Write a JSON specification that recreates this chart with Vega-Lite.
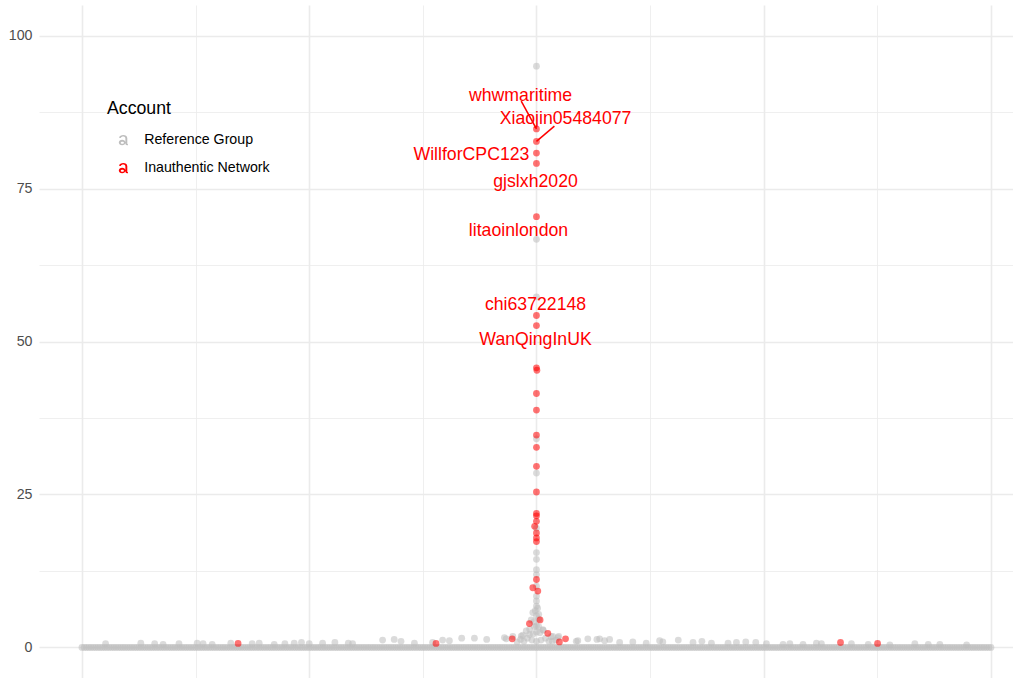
{
  "$schema": "https://vega.github.io/schema/vega-lite/v6.json",
  "autosize": {"type": "none"},
  "padding": {"left": 39, "top": 5, "right": 0, "bottom": 0},
  "width": 974,
  "height": 673,
  "background": "white",
  "config": {
    "view": {"stroke": null},
    "font": "Liberation Sans",
    "text": {"font": "Liberation Sans"},
    "legend": {"symbolSize": 116, "symbolOpacity": 1}
  },
  "datasets": {
    "base": [
      {"x":-200,"y":0},{"x":-198,"y":0},{"x":-196,"y":0},{"x":-194,"y":0},{"x":-192,"y":0},{"x":-190,"y":0},{"x":-188,"y":0},{"x":-186,"y":0},{"x":-184,"y":0},{"x":-182,"y":0},
      {"x":-180,"y":0},{"x":-178,"y":0},{"x":-176,"y":0},{"x":-174,"y":0},{"x":-172,"y":0},{"x":-170,"y":0},{"x":-168,"y":0},{"x":-166,"y":0},{"x":-164,"y":0},{"x":-162,"y":0},
      {"x":-160,"y":0},{"x":-158,"y":0},{"x":-156,"y":0},{"x":-154,"y":0},{"x":-152,"y":0},{"x":-150,"y":0},{"x":-148,"y":0},{"x":-146,"y":0},{"x":-144,"y":0},{"x":-142,"y":0},
      {"x":-140,"y":0},{"x":-138,"y":0},{"x":-136,"y":0},{"x":-134,"y":0},{"x":-132,"y":0},{"x":-130,"y":0},{"x":-128,"y":0},{"x":-126,"y":0},{"x":-124,"y":0},{"x":-122,"y":0},
      {"x":-120,"y":0},{"x":-118,"y":0},{"x":-116,"y":0},{"x":-114,"y":0},{"x":-112,"y":0},{"x":-110,"y":0},{"x":-108,"y":0},{"x":-106,"y":0},{"x":-104,"y":0},{"x":-102,"y":0},
      {"x":-100,"y":0},{"x":-98,"y":0},{"x":-96,"y":0},{"x":-94,"y":0},{"x":-92,"y":0},{"x":-90,"y":0},{"x":-88,"y":0},{"x":-86,"y":0},{"x":-84,"y":0},{"x":-82,"y":0},
      {"x":-80,"y":0},{"x":-78,"y":0},{"x":-76,"y":0},{"x":-74,"y":0},{"x":-72,"y":0},{"x":-70,"y":0},{"x":-68,"y":0},{"x":-66,"y":0},{"x":-64,"y":0},{"x":-62,"y":0},
      {"x":-60,"y":0},{"x":-58,"y":0},{"x":-56,"y":0},{"x":-54,"y":0},{"x":-52,"y":0},{"x":-50,"y":0},{"x":-48,"y":0},{"x":-46,"y":0},{"x":-44,"y":0},{"x":-42,"y":0},
      {"x":-40,"y":0},{"x":-38,"y":0},{"x":-36,"y":0},{"x":-34,"y":0},{"x":-32,"y":0},{"x":-30,"y":0},{"x":-28,"y":0},{"x":-26,"y":0},{"x":-24,"y":0},{"x":-22,"y":0},
      {"x":-20,"y":0},{"x":-18,"y":0},{"x":-16,"y":0},{"x":-14,"y":0},{"x":-12,"y":0},{"x":-10,"y":0},{"x":-8,"y":0},{"x":-6,"y":0},{"x":-4,"y":0},{"x":-2,"y":0},
      {"x":0,"y":0},{"x":2,"y":0},{"x":4,"y":0},{"x":6,"y":0},{"x":8,"y":0},{"x":10,"y":0},{"x":12,"y":0},{"x":14,"y":0},{"x":16,"y":0},{"x":18,"y":0},
      {"x":20,"y":0},{"x":22,"y":0},{"x":24,"y":0},{"x":26,"y":0},{"x":28,"y":0},{"x":30,"y":0},{"x":32,"y":0},{"x":34,"y":0},{"x":36,"y":0},{"x":38,"y":0},
      {"x":40,"y":0},{"x":42,"y":0},{"x":44,"y":0},{"x":46,"y":0},{"x":48,"y":0},{"x":50,"y":0},{"x":52,"y":0},{"x":54,"y":0},{"x":56,"y":0},{"x":58,"y":0},
      {"x":60,"y":0},{"x":62,"y":0},{"x":64,"y":0},{"x":66,"y":0},{"x":68,"y":0},{"x":70,"y":0},{"x":72,"y":0},{"x":74,"y":0},{"x":76,"y":0},{"x":78,"y":0},
      {"x":80,"y":0},{"x":82,"y":0},{"x":84,"y":0},{"x":86,"y":0},{"x":88,"y":0},{"x":90,"y":0},{"x":92,"y":0},{"x":94,"y":0},{"x":96,"y":0},{"x":98,"y":0},
      {"x":100,"y":0},{"x":102,"y":0},{"x":104,"y":0},{"x":106,"y":0},{"x":108,"y":0},{"x":110,"y":0},{"x":112,"y":0},{"x":114,"y":0},{"x":116,"y":0},{"x":118,"y":0},
      {"x":120,"y":0},{"x":122,"y":0},{"x":124,"y":0},{"x":126,"y":0},{"x":128,"y":0},{"x":130,"y":0},{"x":132,"y":0},{"x":134,"y":0},{"x":136,"y":0},{"x":138,"y":0},
      {"x":140,"y":0},{"x":142,"y":0},{"x":144,"y":0},{"x":146,"y":0},{"x":148,"y":0},{"x":150,"y":0},{"x":152,"y":0},{"x":154,"y":0},{"x":156,"y":0},{"x":158,"y":0},
      {"x":160,"y":0},{"x":162,"y":0},{"x":164,"y":0},{"x":166,"y":0},{"x":168,"y":0},{"x":170,"y":0},{"x":172,"y":0},{"x":174,"y":0},{"x":176,"y":0},{"x":178,"y":0},
      {"x":180,"y":0},{"x":182,"y":0},{"x":184,"y":0},{"x":186,"y":0},{"x":188,"y":0},{"x":190,"y":0},{"x":192,"y":0},{"x":194,"y":0},{"x":196,"y":0},{"x":198,"y":0},
      {"x":200,"y":0},
      {"x":-199,"y":0},{"x":-197,"y":0},{"x":-195,"y":0},{"x":-193,"y":0},{"x":-191,"y":0},{"x":-189,"y":0},{"x":-187,"y":0},{"x":-185,"y":0},{"x":-183,"y":0},{"x":-181,"y":0},
      {"x":-179,"y":0},{"x":-177,"y":0},{"x":-175,"y":0},{"x":-173,"y":0},{"x":-171,"y":0},{"x":-169,"y":0},{"x":-167,"y":0},{"x":-165,"y":0},{"x":-163,"y":0},{"x":-161,"y":0},
      {"x":-159,"y":0},{"x":-157,"y":0},{"x":-155,"y":0},{"x":-153,"y":0},{"x":-151,"y":0},{"x":-149,"y":0},{"x":-147,"y":0},{"x":-145,"y":0},{"x":-143,"y":0},{"x":-141,"y":0},
      {"x":-139,"y":0},{"x":-137,"y":0},{"x":-135,"y":0},{"x":-133,"y":0},{"x":-131,"y":0},{"x":-129,"y":0},{"x":-127,"y":0},{"x":-125,"y":0},{"x":-123,"y":0},{"x":-121,"y":0},
      {"x":-119,"y":0},{"x":-117,"y":0},{"x":-115,"y":0},{"x":-113,"y":0},{"x":-111,"y":0},{"x":-109,"y":0},{"x":-107,"y":0},{"x":-105,"y":0},{"x":-103,"y":0},{"x":-101,"y":0},
      {"x":-99,"y":0},{"x":-97,"y":0},{"x":-95,"y":0},{"x":-93,"y":0},{"x":-91,"y":0},{"x":-89,"y":0},{"x":-87,"y":0},{"x":-85,"y":0},{"x":-83,"y":0},{"x":-81,"y":0},
      {"x":-79,"y":0},{"x":-77,"y":0},{"x":-75,"y":0},{"x":-73,"y":0},{"x":-71,"y":0},{"x":-69,"y":0},{"x":-67,"y":0},{"x":-65,"y":0},{"x":-63,"y":0},{"x":-61,"y":0},
      {"x":-59,"y":0},{"x":-57,"y":0},{"x":-55,"y":0},{"x":-53,"y":0},{"x":-51,"y":0},{"x":-49,"y":0},{"x":-47,"y":0},{"x":-45,"y":0},{"x":-43,"y":0},{"x":-41,"y":0},
      {"x":-39,"y":0},{"x":-37,"y":0},{"x":-35,"y":0},{"x":-33,"y":0},{"x":-31,"y":0},{"x":-29,"y":0},{"x":-27,"y":0},{"x":-25,"y":0},{"x":-23,"y":0},{"x":-21,"y":0},
      {"x":-19,"y":0},{"x":-17,"y":0},{"x":-15,"y":0},{"x":-13,"y":0},{"x":-11,"y":0},{"x":-9,"y":0},{"x":-7,"y":0},{"x":-5,"y":0},{"x":-3,"y":0},{"x":-1,"y":0},
      {"x":1,"y":0},{"x":3,"y":0},{"x":5,"y":0},{"x":7,"y":0},{"x":9,"y":0},{"x":11,"y":0},{"x":13,"y":0},{"x":15,"y":0},{"x":17,"y":0},{"x":19,"y":0},
      {"x":21,"y":0},{"x":23,"y":0},{"x":25,"y":0},{"x":27,"y":0},{"x":29,"y":0},{"x":31,"y":0},{"x":33,"y":0},{"x":35,"y":0},{"x":37,"y":0},{"x":39,"y":0},
      {"x":41,"y":0},{"x":43,"y":0},{"x":45,"y":0},{"x":47,"y":0},{"x":49,"y":0},{"x":51,"y":0},{"x":53,"y":0},{"x":55,"y":0},{"x":57,"y":0},{"x":59,"y":0},
      {"x":61,"y":0},{"x":63,"y":0},{"x":65,"y":0},{"x":67,"y":0},{"x":69,"y":0},{"x":71,"y":0},{"x":73,"y":0},{"x":75,"y":0},{"x":77,"y":0},{"x":79,"y":0},
      {"x":81,"y":0},{"x":83,"y":0},{"x":85,"y":0},{"x":87,"y":0},{"x":89,"y":0},{"x":91,"y":0},{"x":93,"y":0},{"x":95,"y":0},{"x":97,"y":0},{"x":99,"y":0},
      {"x":101,"y":0},{"x":103,"y":0},{"x":105,"y":0},{"x":107,"y":0},{"x":109,"y":0},{"x":111,"y":0},{"x":113,"y":0},{"x":115,"y":0},{"x":117,"y":0},{"x":119,"y":0},
      {"x":121,"y":0},{"x":123,"y":0},{"x":125,"y":0},{"x":127,"y":0},{"x":129,"y":0},{"x":131,"y":0},{"x":133,"y":0},{"x":135,"y":0},{"x":137,"y":0},{"x":139,"y":0},
      {"x":141,"y":0},{"x":143,"y":0},{"x":145,"y":0},{"x":147,"y":0},{"x":149,"y":0},{"x":151,"y":0},{"x":153,"y":0},{"x":155,"y":0},{"x":157,"y":0},{"x":159,"y":0},
      {"x":161,"y":0},{"x":163,"y":0},{"x":165,"y":0},{"x":167,"y":0},{"x":169,"y":0},{"x":171,"y":0},{"x":173,"y":0},{"x":175,"y":0},{"x":177,"y":0},{"x":179,"y":0},
      {"x":181,"y":0},{"x":183,"y":0},{"x":185,"y":0},{"x":187,"y":0},{"x":189,"y":0},{"x":191,"y":0},{"x":193,"y":0},{"x":195,"y":0},{"x":197,"y":0},{"x":199,"y":0}
    ],
    "pts": [
      {"x":-189.6,"y":0.6,"g":"Reference Group"},{"x":-174.1,"y":0.7,"g":"Reference Group"},{"x":-168,"y":0.6,"g":"Reference Group"},{"x":-164.3,"y":0.5,"g":"Reference Group"},
      {"x":-157.3,"y":0.6,"g":"Reference Group"},{"x":-149.3,"y":0.7,"g":"Reference Group"},{"x":-146.7,"y":0.6,"g":"Reference Group"},{"x":-142.7,"y":0.5,"g":"Reference Group"},
      {"x":-134.5,"y":0.7,"g":"Reference Group"},{"x":-125.1,"y":0.6,"g":"Reference Group"},{"x":-122,"y":0.7,"g":"Reference Group"},{"x":-115.4,"y":0.5,"g":"Reference Group"},
      {"x":-110.7,"y":0.6,"g":"Reference Group"},{"x":-106.6,"y":0.7,"g":"Reference Group"},{"x":-103.4,"y":0.8,"g":"Reference Group"},{"x":-100,"y":0.6,"g":"Reference Group"},
      {"x":-94.1,"y":0.7,"g":"Reference Group"},{"x":-88.7,"y":0.8,"g":"Reference Group"},{"x":-82.8,"y":0.7,"g":"Reference Group"},{"x":-80.9,"y":0.6,"g":"Reference Group"},
      {"x":-67.7,"y":1.2,"g":"Reference Group"},{"x":-62.6,"y":1.3,"g":"Reference Group"},{"x":-59.6,"y":1.0,"g":"Reference Group"},{"x":-53.7,"y":0.7,"g":"Reference Group"},
      {"x":-45.7,"y":0.8,"g":"Reference Group"},{"x":-41.3,"y":1.2,"g":"Reference Group"},{"x":-38.3,"y":1.1,"g":"Reference Group"},{"x":-32.9,"y":1.5,"g":"Reference Group"},
      {"x":-27.3,"y":1.5,"g":"Reference Group"},{"x":-21.9,"y":1.3,"g":"Reference Group"},{"x":-14.1,"y":1.6,"g":"Reference Group"},{"x":-13.3,"y":1.4,"g":"Reference Group"},
      {"x":-10.4,"y":1.8,"g":"Reference Group"},{"x":-8.5,"y":0.9,"g":"Reference Group"},{"x":-7,"y":1.3,"g":"Reference Group"},{"x":-6.7,"y":1.85,"g":"Reference Group"},
      {"x":-6,"y":2.0,"g":"Reference Group"},{"x":-5.5,"y":1.0,"g":"Reference Group"},{"x":-4.5,"y":2.7,"g":"Reference Group"},{"x":-4,"y":1.5,"g":"Reference Group"},
      {"x":-3.1,"y":2.1,"g":"Reference Group"},{"x":-3,"y":3.0,"g":"Reference Group"},{"x":-2.3,"y":4.5,"g":"Reference Group"},{"x":-2,"y":1.2,"g":"Reference Group"},
      {"x":-1.6,"y":5.7,"g":"Reference Group"},{"x":-1.5,"y":2.2,"g":"Reference Group"},{"x":-1,"y":4.2,"g":"Reference Group"},{"x":-0.9,"y":3.4,"g":"Reference Group"},
      {"x":-0.5,"y":6.0,"g":"Reference Group"},{"x":0,"y":1.0,"g":"Reference Group"},{"x":0,"y":2.5,"g":"Reference Group"},{"x":0,"y":3.5,"g":"Reference Group"},
      {"x":0,"y":5.2,"g":"Reference Group"},{"x":0.5,"y":6.4,"g":"Reference Group"},{"x":1,"y":5.4,"g":"Reference Group"},{"x":1,"y":3.4,"g":"Reference Group"},
      {"x":1,"y":4.6,"g":"Reference Group"},{"x":1.5,"y":2.4,"g":"Reference Group"},{"x":2,"y":1.2,"g":"Reference Group"},{"x":2.8,"y":2.9,"g":"Reference Group"},
      {"x":3,"y":2.8,"g":"Reference Group"},{"x":4,"y":1.5,"g":"Reference Group"},{"x":5.5,"y":1.0,"g":"Reference Group"},{"x":6.5,"y":1.75,"g":"Reference Group"},
      {"x":7,"y":1.0,"g":"Reference Group"},{"x":7.2,"y":1.8,"g":"Reference Group"},{"x":8.5,"y":1.2,"g":"Reference Group"},{"x":9.4,"y":1.6,"g":"Reference Group"},
      {"x":9.8,"y":1.8,"g":"Reference Group"},{"x":17.5,"y":1.0,"g":"Reference Group"},{"x":18.2,"y":1.1,"g":"Reference Group"},{"x":22.6,"y":1.4,"g":"Reference Group"},
      {"x":26.6,"y":1.3,"g":"Reference Group"},{"x":27.8,"y":1.4,"g":"Reference Group"},{"x":30,"y":1.1,"g":"Reference Group"},{"x":32.2,"y":1.3,"g":"Reference Group"},
      {"x":36.6,"y":0.8,"g":"Reference Group"},{"x":42.4,"y":0.9,"g":"Reference Group"},{"x":48.3,"y":0.7,"g":"Reference Group"},{"x":54.2,"y":1.1,"g":"Reference Group"},
      {"x":55.6,"y":0.9,"g":"Reference Group"},{"x":62.4,"y":1.2,"g":"Reference Group"},{"x":68.9,"y":0.8,"g":"Reference Group"},{"x":72.8,"y":1.0,"g":"Reference Group"},
      {"x":77,"y":0.7,"g":"Reference Group"},{"x":84.3,"y":0.7,"g":"Reference Group"},{"x":88,"y":0.8,"g":"Reference Group"},{"x":92.1,"y":0.9,"g":"Reference Group"},
      {"x":96.5,"y":0.8,"g":"Reference Group"},{"x":101.2,"y":0.6,"g":"Reference Group"},{"x":108.5,"y":0.5,"g":"Reference Group"},{"x":111.5,"y":0.6,"g":"Reference Group"},
      {"x":117.3,"y":0.5,"g":"Reference Group"},{"x":123.2,"y":0.7,"g":"Reference Group"},{"x":125.4,"y":0.6,"g":"Reference Group"},{"x":138.6,"y":0.6,"g":"Reference Group"},
      {"x":146,"y":0.5,"g":"Reference Group"},{"x":155.5,"y":0.4,"g":"Reference Group"},{"x":166.5,"y":0.6,"g":"Reference Group"},{"x":172.4,"y":0.5,"g":"Reference Group"},
      {"x":177.5,"y":0.5,"g":"Reference Group"},{"x":189.3,"y":0.4,"g":"Reference Group"},
      {"x":0,"y":6.75,"g":"Reference Group"},{"x":0,"y":7.6,"g":"Reference Group"},{"x":0,"y":8.4,"g":"Reference Group"},{"x":0,"y":10.0,"g":"Reference Group"},
      {"x":0,"y":11.9,"g":"Reference Group"},{"x":0,"y":12.7,"g":"Reference Group"},{"x":0,"y":14.4,"g":"Reference Group"},{"x":0,"y":15.5,"g":"Reference Group"},
      {"x":0,"y":19.5,"g":"Reference Group"},{"x":0,"y":28.5,"g":"Reference Group"},{"x":0,"y":34.1,"g":"Reference Group"},{"x":0,"y":57.3,"g":"Reference Group"},
      {"x":0,"y":66.7,"g":"Reference Group"},{"x":0,"y":95.0,"g":"Reference Group"},
      {"x":-131.3,"y":0.65,"g":"Inauthentic Network"},{"x":-44.2,"y":0.65,"g":"Inauthentic Network"},{"x":133.8,"y":0.8,"g":"Inauthentic Network"},{"x":150.1,"y":0.65,"g":"Inauthentic Network"},
      {"x":-10.7,"y":1.4,"g":"Inauthentic Network"},{"x":12.8,"y":1.4,"g":"Inauthentic Network"},{"x":10.1,"y":0.9,"g":"Inauthentic Network"},{"x":5.0,"y":2.3,"g":"Inauthentic Network"},
      {"x":-3.1,"y":3.9,"g":"Inauthentic Network"},{"x":1.6,"y":4.5,"g":"Inauthentic Network"},{"x":0.6,"y":9.2,"g":"Inauthentic Network"},{"x":-1.6,"y":9.75,"g":"Inauthentic Network"},
      {"x":0,"y":11.1,"g":"Inauthentic Network"},{"x":0,"y":17.3,"g":"Inauthentic Network"},{"x":0,"y":17.9,"g":"Inauthentic Network"},{"x":0,"y":18.7,"g":"Inauthentic Network"},
      {"x":-0.8,"y":19.8,"g":"Inauthentic Network"},{"x":0,"y":20.6,"g":"Inauthentic Network"},{"x":0,"y":21.5,"g":"Inauthentic Network"},{"x":0,"y":21.9,"g":"Inauthentic Network"},
      {"x":0,"y":25.4,"g":"Inauthentic Network"},{"x":0,"y":29.6,"g":"Inauthentic Network"},{"x":0,"y":32.7,"g":"Inauthentic Network"},{"x":0,"y":34.7,"g":"Inauthentic Network"},
      {"x":0,"y":38.8,"g":"Inauthentic Network"},{"x":0,"y":41.5,"g":"Inauthentic Network"},{"x":0.2,"y":45.3,"g":"Inauthentic Network"},{"x":0,"y":45.7,"g":"Inauthentic Network"},
      {"x":0,"y":52.6,"g":"Inauthentic Network"},{"x":0,"y":54.25,"g":"Inauthentic Network"},{"x":0,"y":70.4,"g":"Inauthentic Network"},{"x":0,"y":79.1,"g":"Inauthentic Network"},
      {"x":0,"y":80.8,"g":"Inauthentic Network"},{"x":0,"y":82.7,"g":"Inauthentic Network"},{"x":0,"y":84.75,"g":"Inauthentic Network"}
    ],
    "segs": [
      {"x":0,"y":84.75,"x2":-6.7,"y2":89.3},
      {"x":0,"y":82.7,"x2":7.9,"y2":85.2}
    ],
    "labels": [
      {"x":-7.0,"y":90.2,"label":"whwmaritime"},
      {"x":12.8,"y":86.3,"label":"Xiaojin05484077"},
      {"x":-28.6,"y":80.5,"label":"WillforCPC123"},
      {"x":-0.4,"y":76.1,"label":"gjslxh2020"},
      {"x":-7.9,"y":68.1,"label":"litaoinlondon"},
      {"x":-0.4,"y":55.9,"label":"chi63722148"},
      {"x":-0.4,"y":50.2,"label":"WanQingInUK"}
    ]
  },
  "encoding": {
    "x": {
      "field": "x", "type": "quantitative",
      "scale": {"domain": [-218.9, 209.7], "nice": false, "zero": false},
      "axis": {
        "title": null, "labels": false, "ticks": false, "domain": false,
        "values": [-200, -150, -100, -50, 0, 50, 100, 150, 200],
        "gridColor": "#ebebeb",
        "gridWidth": {"condition": {"test": "datum.value % 100 === 0", "value": 1.6}, "value": 0.8}
      }
    },
    "y": {
      "field": "y", "type": "quantitative",
      "scale": {"domain": [-5, 105], "nice": false, "zero": false},
      "axis": {
        "title": null, "ticks": false, "domain": false,
        "values": [0, 12.5, 25, 37.5, 50, 62.5, 75, 87.5, 100],
        "labelExpr": "datum.value % 25 === 0 ? datum.label : ''",
        "labelFont": "Liberation Sans", "labelFontSize": 14.2, "labelColor": "#4d4d4d", "labelPadding": 7,
        "gridColor": "#ebebeb",
        "gridWidth": {"condition": {"test": "datum.value % 25 === 0", "value": 1.6}, "value": 0.8}
      }
    }
  },
  "layer": [
    {
      "data": {"name": "base"},
      "mark": {"type": "point", "filled": true, "size": 46, "opacity": 0.55},
      "encoding": {
        "color": {"datum": "Reference Group", "type": "nominal"}
      }
    },
    {
      "data": {"name": "pts"},
      "mark": {"type": "point", "filled": true, "size": 46, "opacity": 0.55},
      "encoding": {
        "color": {
          "field": "g", "type": "nominal",
          "scale": {"domain": ["Reference Group", "Inauthentic Network"], "range": ["#bebebe", "#ff0000"]},
          "legend": {
            "title": "Account",
            "orient": "none", "legendX": 68, "legendY": 95,
            "padding": 0,
            "titleFont": "Liberation Sans", "titleFontSize": 17.7, "titleFontWeight": "normal", "titleColor": "#000000", "titlePadding": 15,
            "labelFont": "Liberation Sans", "labelFontSize": 14.2, "labelColor": "#000000", "labelOffset": 14,
            "rowPadding": 13,
            "symbolType": "M-0.76,-0.4 C-0.64,-1.06 0.78,-1.12 0.78,-0.3 L0.42,-0.3 C0.42,-0.72 -0.34,-0.74 -0.42,-0.34 Z M0.42,-0.3 L0.78,-0.3 L0.78,0.7 Q0.78,0.8 0.9,0.8 L0.9,1.0 Q0.5,1.06 0.43,0.78 Z M-0.8,0.5 A0.62,0.5 0 1 1 0.44,0.5 A0.62,0.5 0 1 1 -0.8,0.5 Z M-0.44,0.54 A0.3,0.2 0 1 0 0.16,0.54 A0.3,0.2 0 1 0 -0.44,0.54 Z",
            "symbolSize": 116,
            "symbolOffset": 9,
            "symbolStrokeWidth": 0,
            "symbolOpacity": 1,
            "encode": {
              "symbols": {
                "update": {
                  "strokeWidth": {"value": 0},
                  "opacity": {"value": 1},
                  "fillOpacity": {"value": 1}
                }
              }
            }
          }
        }
      }
    },
    {
      "data": {"name": "segs"},
      "mark": {"type": "rule", "color": "#ff0000", "strokeWidth": 1.5},
      "encoding": {
        "x2": {"field": "x2"},
        "y2": {"field": "y2"}
      }
    },
    {
      "data": {"name": "labels"},
      "mark": {"type": "text", "color": "#ff0000", "font": "Liberation Sans", "fontSize": 17.7, "align": "center", "baseline": "middle"},
      "encoding": {
        "text": {"field": "label"}
      }
    }
  ]
}
